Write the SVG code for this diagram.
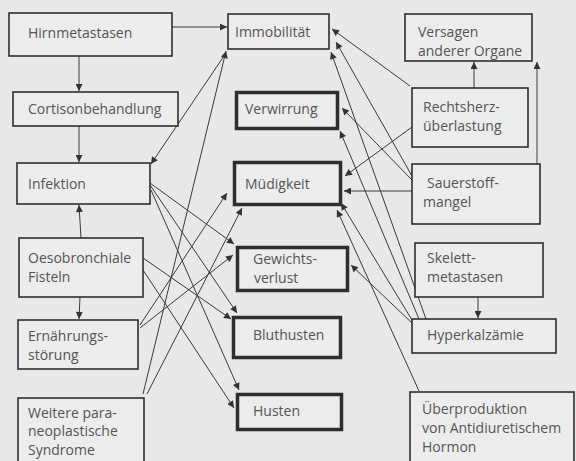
<svg xmlns="http://www.w3.org/2000/svg" width="576" height="461" viewBox="0 0 576 461">
<defs>
<marker id="a" viewBox="0 0 10 10" refX="10" refY="5" markerWidth="9" markerHeight="7" orient="auto" markerUnits="userSpaceOnUse"><path d="M0,0 L10,5 L0,10 z" fill="#333"/></marker>
<style>
.n rect{fill:#ececec;stroke:#2e2e2e;stroke-width:1.6}
.t rect{fill:#ececec;stroke:#2e2e2e;stroke-width:3.5}
text{font-family:"Open Sans","Noto Sans","DejaVu Sans",sans-serif;font-size:14px;fill:#555}
#edges line{stroke:#3a3a3a;stroke-width:1;marker-end:url(#a)}
</style>
</defs>
<rect width="576" height="461" fill="#e8e8e8"/>
<g id="edges">
<line x1="172" y1="27" x2="227" y2="27"/>
<line x1="79" y1="56" x2="79" y2="91"/>
<line x1="79" y1="126" x2="79" y2="162"/>
<line x1="81" y1="238" x2="79" y2="205"/>
<line x1="80" y1="297" x2="79" y2="319"/>
<line x1="226" y1="53" x2="151" y2="164"/>
<line x1="143" y1="394" x2="226" y2="51"/>
<line x1="150" y1="183" x2="234" y2="244"/>
<line x1="150" y1="185" x2="237" y2="313"/>
<line x1="151" y1="190" x2="239" y2="390"/>
<line x1="143" y1="258" x2="231" y2="319"/>
<line x1="143" y1="270" x2="234" y2="408"/>
<line x1="140" y1="325" x2="227" y2="193"/>
<line x1="140" y1="328" x2="233" y2="255"/>
<line x1="147" y1="394" x2="242" y2="208"/>
<line x1="474" y1="88" x2="474" y2="62"/>
<line x1="537" y1="164" x2="537" y2="62"/>
<line x1="478" y1="297" x2="478" y2="318"/>
<line x1="410" y1="86" x2="332" y2="29"/>
<line x1="412" y1="176" x2="336" y2="42"/>
<line x1="426" y1="319" x2="331" y2="52"/>
<line x1="412" y1="180" x2="342" y2="108"/>
<line x1="419" y1="319" x2="340" y2="131"/>
<line x1="412" y1="127" x2="345" y2="176"/>
<line x1="412" y1="191" x2="344" y2="191"/>
<line x1="412" y1="320" x2="341" y2="203"/>
<line x1="419" y1="391" x2="337" y2="210"/>
<line x1="412" y1="323" x2="351" y2="265"/>
</g>
<g id="hirn" class="n"><rect x="9" y="13" width="163" height="43"/><text x="28" y="38">Hirnmetastasen</text></g>
<g id="cortison" class="n"><rect x="13" y="92" width="165" height="34"/><text x="28" y="114">Cortisonbehandlung</text></g>
<g id="infektion" class="n"><rect x="17" y="163" width="133" height="41"/><text x="28" y="189">Infektion</text></g>
<g id="oeso" class="n"><rect x="19" y="238" width="124" height="59"/><text x="28" y="263">Oesobronchiale</text><text x="28" y="282">Fisteln</text></g>
<g id="ernaehrung" class="n"><rect x="18" y="320" width="120" height="49"/><text x="28" y="341">Ernährungs-</text><text x="28" y="360">störung</text></g>
<g id="weitere" class="n"><rect x="18" y="398" width="126" height="70"/><text x="28" y="418">Weitere para-</text><text x="28" y="436">neoplastische</text><text x="28" y="455">Syndrome</text></g>
<g id="immob" class="n"><rect x="228" y="14" width="101" height="35"/><text x="235" y="37">Immobilität</text></g>
<g id="verwirrung" class="t"><rect x="236.5" y="92.5" width="101" height="36"/><text x="245" y="114">Verwirrung</text></g>
<g id="muedigkeit" class="t"><rect x="234.5" y="162.5" width="106" height="42"/><text x="245" y="189">Müdigkeit</text></g>
<g id="gewicht" class="t"><rect x="237.5" y="247.5" width="110" height="43"/><text x="253" y="264">Gewichts-</text><text x="254" y="283">verlust</text></g>
<g id="bluthusten" class="t"><rect x="233.5" y="317.5" width="107" height="40"/><text x="253" y="340">Bluthusten</text></g>
<g id="husten" class="t"><rect x="237.5" y="394.5" width="104" height="35"/><text x="253" y="416">Husten</text></g>
<g id="versagen" class="n"><rect x="405" y="14" width="127" height="47"/><text x="418" y="37">Versagen</text><text x="418" y="56">anderer Organe</text></g>
<g id="rechtsherz" class="n"><rect x="412" y="88" width="116" height="59"/><text x="423" y="112">Rechtsherz-</text><text x="423" y="131">überlastung</text></g>
<g id="sauerstoff" class="n"><rect x="412" y="164" width="128" height="60"/><text x="427" y="188">Sauerstoff-</text><text x="423" y="207">mangel</text></g>
<g id="skelett" class="n"><rect x="415" y="243" width="128" height="54"/><text x="427" y="263">Skelett-</text><text x="427" y="282">metastasen</text></g>
<g id="hyperkalz" class="n"><rect x="412" y="319" width="144" height="34"/><text x="427" y="340">Hyperkalzämie</text></g>
<g id="ueber" class="n"><rect x="410" y="392" width="164" height="75"/><text x="422" y="414">Überproduktion</text><text x="422" y="433">von Antidiuretischem</text><text x="422" y="452">Hormon</text></g>
</svg>
